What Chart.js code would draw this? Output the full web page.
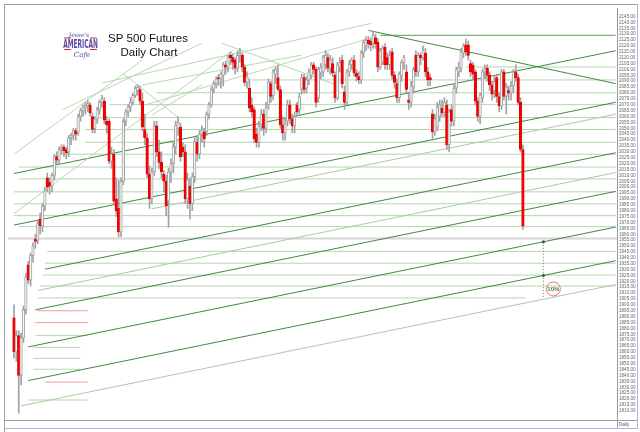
<!DOCTYPE html>
<html><head><meta charset="utf-8">
<script src="https://cdn.jsdelivr.net/npm/chart.js@4/dist/chart.umd.min.js"></script>
<style>html,body{margin:0;padding:0;background:#fff;}#wrap{width:640px;height:432px;}</style>
</head><body><div id="wrap"><canvas id="c" width="640" height="432"></canvas></div>
<script>
// ---- candle data (S&P 500 futures, daily) ----
const openP = [
1889,1860,1874,1840,1872,1896,1934,1921,1942,1956,
1955,1973,1967,1984,2008,2004,2001,2010,2026,2023,
2032,2034,2032,2030,2042,2044,2048,2046,2060,2065,
2068,2069,2070,2060,2050,2058,2066,2072,2073,2056,
2056,2022,2028,1990,1982,1962,2005,2056,2064,2068,
2072,2078,2082,2083,2073,2049,2042,2011,1990,2013,
2052,2030,2021,2011,2005,1988,2013,2020,2034,2050,
2051,2034,2030,1990,2001,1986,2009,2038,2028,2045,
2047,2047,2062,2070,2083,2088,2093,2092,2095,2104,
2102,2112,2110,2108,2101,2112,2112,2102,2089,2084,
2070,2066,2045,2038,2053,2062,2050,2070,2088,2078,
2096,2093,2083,2053,2046,2056,2070,2058,2052,2070,
2066,2083,2093,2084,2091,2095,2104,2100,2076,2097,
2098,2104,2110,2101,2105,2095,2076,2102,2108,2081,
2072,2098,2104,2108,2097,2094,2091,2114,2120,2125,
2124,2122,2127,2123,2102,2106,2119,2110,2104,2115,
2095,2088,2076,2095,2106,2098,2074,2072,2085,2112,
2098,2112,2110,2114,2098,2093,2062,2047,2051,2060,
2067,2063,2070,2036,2066,2056,2084,2098,2101,2114,
2121,2121,2105,2104,2098,2073,2060,2076,2098,2101,
2095,2087,2082,2093,2077,2069,2098,2077,2082,2080,
2086,2098,2093,2072,2032];
const highP = [
1900,1878,1878,1876,1899,1927,1937,1944,1953,1960,
1972,1978,1986,2000,2012,2008,2012,2028,2030,2034,
2036,2036,2034,2044,2046,2050,2050,2062,2067,2070,
2072,2074,2072,2063,2060,2068,2074,2078,2076,2060,
2058,2034,2032,2008,2006,2008,2058,2066,2070,2076,
2080,2086,2087,2086,2080,2062,2046,2018,2016,2056,
2056,2040,2030,2014,2010,2016,2024,2038,2056,2060,
2054,2038,2036,2012,2008,2012,2042,2044,2048,2052,
2050,2064,2072,2085,2090,2094,2096,2098,2106,2107,
2112,2115,2113,2110,2116,2118,2114,2104,2098,2092,
2076,2068,2050,2056,2066,2066,2072,2092,2090,2100,
2102,2104,2086,2060,2058,2074,2074,2062,2064,2072,
2080,2096,2096,2094,2100,2106,2106,2102,2102,2105,
2112,2116,2114,2112,2110,2098,2106,2110,2112,2086,
2100,2108,2110,2112,2100,2098,2116,2125,2128,2128,
2127,2132,2130,2126,2118,2120,2122,2114,2116,2118,
2098,2092,2098,2108,2112,2104,2080,2090,2102,2116,
2114,2114,2120,2118,2102,2096,2066,2062,2072,2074,
2074,2076,2074,2066,2070,2088,2102,2106,2118,2122,
2126,2124,2108,2106,2100,2076,2080,2100,2104,2104,
2098,2090,2094,2096,2080,2100,2100,2088,2086,2090,
2100,2104,2096,2076,2036];
const lowP = [
1855,1852,1808,1832,1868,1892,1918,1916,1936,1948,
1952,1960,1962,1980,1996,1994,1996,2006,2020,2020,
2028,2026,2024,2026,2036,2040,2040,2044,2056,2060,
2062,2064,2060,2046,2046,2054,2062,2068,2054,2046,
2020,2016,1986,1975,1958,1958,2002,2052,2060,2064,
2070,2076,2078,2070,2048,2036,2008,1982,1986,2010,
2026,2016,2008,1996,1976,1966,2004,2012,2028,2044,
2022,2026,1986,1982,1973,1980,2004,2022,2024,2038,
2034,2044,2058,2068,2080,2084,2086,2084,2086,2096,
2098,2104,2100,2096,2098,2106,2098,2086,2084,2064,
2060,2038,2034,2034,2048,2044,2046,2066,2072,2074,
2088,2082,2050,2040,2040,2052,2054,2046,2046,2060,
2062,2079,2080,2080,2087,2092,2096,2068,2072,2092,
2094,2100,2098,2096,2094,2072,2074,2098,2084,2066,
2070,2094,2100,2094,2090,2088,2088,2110,2116,2118,
2116,2118,2118,2098,2100,2104,2100,2100,2100,2092,
2084,2072,2072,2090,2100,2080,2066,2068,2080,2094,
2094,2104,2108,2094,2086,2086,2040,2044,2048,2056,
2060,2060,2032,2030,2052,2052,2080,2094,2098,2110,
2112,2108,2094,2092,2070,2056,2054,2072,2092,2090,
2082,2074,2076,2072,2064,2066,2074,2062,2074,2074,
2080,2090,2070,2030,1964];
const closeP = [
1860,1874,1840,1872,1896,1924,1921,1942,1950,1954,
1969,1967,1984,1997,2000,2001,2010,2026,2023,2032,
2034,2031,2029,2042,2044,2048,2045,2060,2065,2068,
2070,2071,2063,2049,2058,2066,2072,2075,2057,2053,
2022,2028,1988,1980,1962,2005,2056,2064,2068,2072,
2078,2084,2085,2073,2051,2042,2011,1990,2013,2052,
2030,2021,2013,2005,1984,2013,2020,2034,2053,2055,
2026,2030,1990,2006,1986,2009,2039,2028,2045,2048,
2041,2062,2070,2083,2088,2092,2092,2096,2104,2102,
2110,2110,2106,2101,2112,2114,2102,2089,2094,2067,
2064,2041,2038,2052,2062,2050,2068,2089,2077,2098,
2100,2083,2053,2046,2054,2070,2058,2052,2060,2064,
2077,2093,2083,2091,2098,2104,2100,2072,2100,2102,
2110,2112,2101,2108,2097,2076,2104,2106,2088,2072,
2098,2104,2108,2097,2094,2091,2114,2123,2125,2122,
2121,2129,2122,2102,2116,2118,2104,2104,2112,2095,
2089,2076,2096,2106,2110,2083,2072,2086,2100,2098,
2112,2110,2116,2098,2091,2091,2047,2058,2068,2070,
2063,2072,2036,2064,2056,2084,2100,2102,2115,2120,
2115,2112,2098,2096,2073,2060,2078,2098,2101,2095,
2087,2079,2090,2077,2069,2098,2077,2085,2080,2086,
2098,2093,2072,2032,1967];

// ---- price axis tick labels ----
const priceTicks = [2145,2140,2135,2130,2125,2120,2115,2110,2105,2100,2095,2090,2085,2080,2075,2070,2065,2060,2055,2050,
2045,2040,2035,2030,2025,2020,2015,2010,2005,2000,1995,1990,1985,1980,1975,1970,1965,1960,1955,1950,
1945,1940,1935,1930,1925,1920,1915,1910,1905,1900,1895,1890,1885,1880,1875,1870,1865,1860,1855,1850,
1845,1840,1835,1830,1825,1820,1815,1810];

// ---- trend lines: [barIndex1, price1, barIndex2, price2] ----
const darkRising = [[0,2011.6,253,2115.9],[0,1967.8,253,2072.1],[13,1930.3,253,2029.2],[9,1895.8,253,1996.4],[6,1864.3,253,1966.1],[6,1835.7,253,1937.5]];
const lightRising = [[58,1981.6,253,2062.0],[10,1912.2,253,2012.4],[3,1814.2,253,1917.3]];
const darkFalling = [[149,2133.2,253,2088.0]];
const lightFan = [[0,2028,54,2108],[0,1977.5,92,2116.4],[20.5,2065.9,79,2122.3],[54,2086.9,121,2112.2],[54,2069.2,148,2125.6],[37.2,2088.6,150.2,2139.1],[45.6,2097,68.6,2060],[58.2,2061.7,79.1,2086.9],[87.4,2122.3,135.6,2086.9]];
// ---- horizontal levels: [price, barIndexStart, barIndexEnd] ----
const greenLevels = [[2102.1,190,253],[2091.1,100,253],[2080.2,60,253],[2070.1,40,253],[2059.1,35,253],[2049.0,30,253],[2038.1,30,253],[2028.0,20,253],[2017.1,2,253],[2007.0,2,253],[1996.0,0,253],[1985.9,0,253],[1975.8,0,253],[1966.5,2,253],[1945.5,14,253],[1935.4,13,253],[1925.3,12,253],[1916.0,11,253],[1905.9,10,215],[1873.9,9,31],[1863.9,8,28],[1854.6,8,28],[1845.3,8,28],[1819.2,6,31]];
const darkLevels = [[2129.0,154,253]];
const grayLevels = [[1956.4,-3,254]];
const redLevels = [[1895.0,10,31],[1884.9,9,31],[1834.4,13,31]];
// ---- projection markers ----
const projLine = [[222.6,1953.6,222.6,1906]];
const projDotsX = [222.6,222.6];
const projDotsY = [1953.6,1925.0];
const markX = [226.8];
const markY = [1913.5];
const markLabel = ['10%'];

// ---- build datasets ----
const bodies = closeP.map((c,i)=>({x:i, y:[openP[i], c]}));
const wicks = closeP.map((c,i)=>({x:i, y:[lowP[i], highP[i]]}));
const bodyFill = closeP.map((c,i)=> c>=openP[i] ? '#f6f6f6' : '#ff0000');
const bodyEdge = closeP.map((c,i)=> c>=openP[i] ? '#a4a4a4' : '#e60000');

function segs(list, color, width, dash){
  return list.map(s=>({type:'line', data:[{x:s[0],y:s[1]},{x:s[2],y:s[3]}], borderColor:color, borderWidth:width, borderDash:dash||[], pointRadius:0, tension:0, fill:false, order:5}));
}
function levels(list, color, width){
  return list.map(s=>({type:'line', data:[{x:s[1],y:s[0]},{x:s[2],y:s[0]}], borderColor:color, borderWidth:width, pointRadius:0, tension:0, fill:false, order:6}));
}

const datasets = [
  ...levels(grayLevels,'#d6d6d6',2),
  ...levels(greenLevels,'#b5d5ae',1),
  ...levels(darkLevels,'#5e9e5e',1),
  ...levels(redLevels,'#f29a9a',1),
  ...segs(lightFan,'#b8d8b0',1),
  ...segs(lightRising,'#a9cda2',1),
  ...segs(darkRising,'#3f8a3f',1),
  ...segs(darkFalling,'#3f8a3f',1),
  ...segs(projLine,'#4a8a4a',1,[1,2]),
  {type:'line', showLine:false, data: projDotsX.map((x,i)=>({x, y:projDotsY[i]})), pointRadius:1.6, pointBackgroundColor:'#2e6e2e', pointBorderWidth:0, order:4},
  {type:'line', showLine:false, data: markX.map((x,i)=>({x, y:markY[i]})), pointRadius:7, pointBackgroundColor:'rgba(255,255,255,0)', pointBorderColor:'#f07070', pointBorderWidth:1, order:4},
  {type:'bar', data:wicks, backgroundColor:'#a2a2a2', barThickness:1, grouped:false, order:2},
  {type:'bar', data:bodies, backgroundColor:bodyFill, borderColor:bodyEdge, borderWidth:1, borderSkipped:false, barThickness:2.6, grouped:false, order:1}
];

const decor = {
  id:'decor',
  beforeDraw(chart){
    const ctx = chart.ctx;
    ctx.save();
    ctx.fillStyle='#fff'; ctx.fillRect(0,0,640,432);
    ctx.restore();
  },
  afterDraw(chart){
    const ctx = chart.ctx;
    const xs = chart.scales.x, ys = chart.scales.y;
    ctx.save();
    // frame
    ctx.strokeStyle='#a0a0a0'; ctx.lineWidth=1;
    ctx.beginPath();
    ctx.moveTo(4.5,432); ctx.lineTo(4.5,4.5); ctx.lineTo(637,4.5);
    ctx.moveTo(4.5,420.5); ctx.lineTo(637,420.5);
    ctx.moveTo(617.5,420); ctx.lineTo(617.5,428);
    ctx.stroke();
    ctx.strokeStyle='#aab4dc';
    ctx.beginPath(); ctx.moveTo(4.5,428.5); ctx.lineTo(637.5,428.5); ctx.moveTo(637.5,4); ctx.lineTo(637.5,429); ctx.stroke();
    // bottom label
    ctx.fillStyle='#555'; ctx.font='4.6px "Liberation Sans", Arial'; ctx.textAlign='left'; ctx.textBaseline='middle';
    ctx.fillText('Daily',619,424.5);
    // title
    ctx.fillStyle='#111'; ctx.font='11.5px "Liberation Sans", Arial'; ctx.textAlign='center'; ctx.textBaseline='alphabetic';
    ctx.fillText('SP 500 Futures',148,42);
    ctx.fillText('Daily Chart',149,56);
    // logo
    ctx.fillStyle='#5b4a9c';
    ctx.font='italic 6px "DejaVu Serif"';
    ctx.fillText("Jesse's",79,36.5);
    ctx.save(); ctx.translate(80.5,48); ctx.scale(0.5,1);
    ctx.font='bold 13px "DejaVu Sans Condensed", "DejaVu Sans"';
    ctx.fillText('AMERICAN',0,0); ctx.restore();
    ctx.font='italic 7px "DejaVu Serif"';
    ctx.fillText('Cafe',82,56.5);
    ctx.fillStyle='#c0304a';
    ctx.fillRect(64,37.5,7,1); ctx.fillRect(90,37.5,7,1);
    ctx.fillRect(64,49,7,1); ctx.fillRect(90,49,7,1);
    // mark label
    ctx.fillStyle='#4f7a4f'; ctx.font='bold 6px "Liberation Sans", Arial'; ctx.textAlign='center'; ctx.textBaseline='middle';
    markX.forEach((mx,i)=>{ ctx.fillText(markLabel[i], xs.getPixelForValue(mx), ys.getPixelForValue(markY[i])+0.5); });
    ctx.restore();
  }
};

new Chart(document.getElementById('c'), {
  type:'bar',
  data:{datasets},
  options:{
    responsive:false, animation:false, devicePixelRatio:1,
    layout:{padding:{left:5, top:4, right:3, bottom:12}},
    plugins:{legend:{display:false}, tooltip:{enabled:false}, title:{display:false}},
    scales:{
      x:{type:'linear', display:false, min:-2.51, max:253.56, offset:false, grid:{display:false}},
      y:{type:'linear', position:'right', min:1802.2, max:2152.2,
        afterBuildTicks:s=>{ s.ticks = priceTicks.map(v=>({value:v})); },
        afterFit:s=>{ s.width = 20; },
        grid:{display:false, drawTicks:false},
        border:{display:true, color:'#9a9a9a', width:1},
        ticks:{autoSkip:false, padding:2, color:'#666', font:{size:4.6, family:'"Liberation Sans", Arial'}, callback:v=>Number(v).toFixed(2)}
      }
    }
  },
  plugins:[decor]
});
</script>
</body></html>
